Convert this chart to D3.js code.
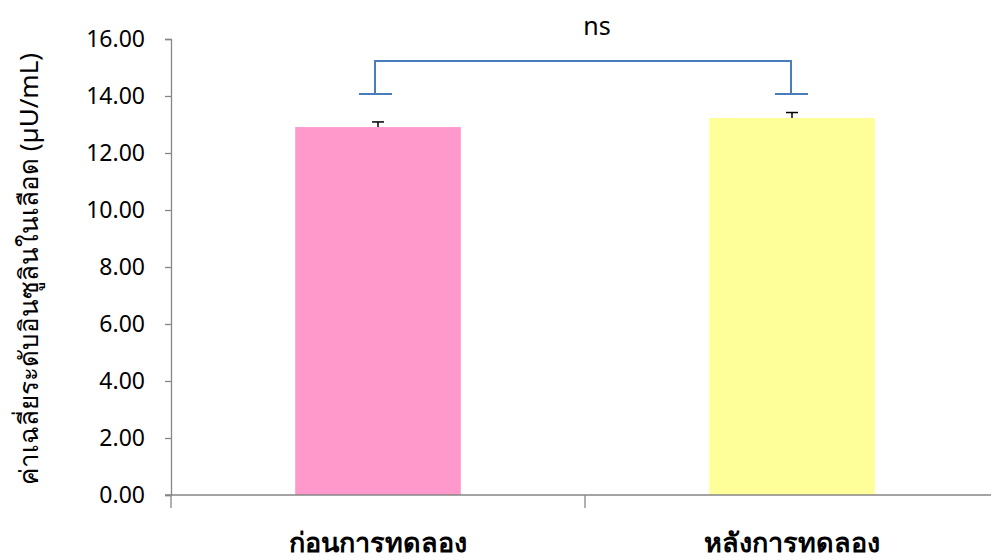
<!DOCTYPE html>
<html>
<head>
<meta charset="utf-8">
<script src="https://cdn.jsdelivr.net/npm/d3@7"></script>
<style>
  html, body { margin: 0; padding: 0; background: #fff; }
  svg { display: block; }
  text { font-family: "Noto Sans", "Open Sans", "DejaVu Sans", sans-serif; fill: #000; }
</style>
</head>
<body>
<div id="chart"></div>
<script>
// Mean blood insulin level before and after the trial
const categories = ["ก่อนการทดลอง", "หลังการทดลอง"];
const means = [12.91, 13.23];
const errors = [0.18, 0.19];
const yTicks = [0, 2, 4, 6, 8, 10, 12, 14, 16];
const yTitle = "ค่าเฉลี่ยระดับอินซูลินในเลือด (µU/mL)";
const sigLabel = "ns";
const bracketBase = 14.07;
const bracketTop = 15.23;

const W = 991, H = 560;
const svg = d3.select("#chart").append("svg").attr("width", W).attr("height", H);

const x0 = 171, x1 = 999, yTop = 39, yBottom = 495;
const x = d3.scaleBand().domain(categories).range([x0, x1]).paddingInner(0.6).paddingOuter(0.3);
const y = d3.scaleLinear().domain([0, 16]).range([yBottom, yTop]);

const axisColor = "#868686";

// bars
const colors = ["#ff99cc", "#ffff99"];
svg.selectAll("rect.bar").data(categories).join("rect")
  .attr("class", "bar")
  .attr("x", d => x(d))
  .attr("width", x.bandwidth())
  .attr("y", (d, i) => y(means[i]))
  .attr("height", (d, i) => y(0) - y(means[i]))
  .attr("fill", (d, i) => colors[i]);

// error bars (upper only)
categories.forEach((c, i) => {
  const cx = x(c) + x.bandwidth() / 2;
  const g = svg.append("g").attr("stroke", "#000").attr("stroke-width", 1.5);
  g.append("line").attr("x1", cx).attr("x2", cx).attr("y1", y(means[i])).attr("y2", y(means[i] + errors[i]));
  g.append("line").attr("x1", cx - 6).attr("x2", cx + 6).attr("y1", y(means[i] + errors[i])).attr("y2", y(means[i] + errors[i]));
});

// y axis
const yAxis = d3.axisLeft(y).tickValues(yTicks).tickFormat(d3.format(".2f")).tickSize(6).tickPadding(20);
const gy = svg.append("g").attr("transform", `translate(${x0},0)`).call(yAxis);
gy.select(".domain").attr("stroke", axisColor).attr("stroke-width", 1.3);
gy.selectAll(".tick line").attr("stroke", axisColor).attr("stroke-width", 1.3);
gy.selectAll(".tick text").attr("font-size", 23).attr("font-family", "'Open Sans', sans-serif").attr("fill", "#000");

// x axis baseline with category separators
const gx = svg.append("g");
gx.append("line").attr("x1", x0 - 6).attr("x2", x1).attr("y1", y(0)).attr("y2", y(0))
  .attr("stroke", axisColor).attr("stroke-width", 1.3);
const bounds = [x0, (x0 + x1) / 2, x1];
gx.selectAll("line.sep").data(bounds).join("line")
  .attr("class", "sep")
  .attr("x1", d => d).attr("x2", d => d)
  .attr("y1", y(0)).attr("y2", y(0) + 13)
  .attr("stroke", axisColor).attr("stroke-width", 1.3);

// category labels
svg.selectAll("text.cat").data(categories).join("text")
  .attr("class", "cat")
  .attr("x", d => x(d) + x.bandwidth() / 2)
  .attr("y", 552)
  .attr("text-anchor", "middle")
  .attr("font-size", 27)
  .attr("font-weight", "bold")
  .text(d => d);

// y title
svg.append("text")
  .attr("transform", `translate(38,${(yTop + yBottom) / 2 + 2}) rotate(-90)`)
  .attr("text-anchor", "middle")
  .attr("font-size", 26)
  .text(yTitle);

// significance bracket
const cA = x(categories[0]) + x.bandwidth() / 2 - 3;
const cB = x(categories[1]) + x.bandwidth() / 2 - 1;
const br = svg.append("g").attr("stroke", "#4a7ebb").attr("stroke-width", 2).attr("fill", "none");
br.append("path").attr("d", `M${cA},${y(bracketBase)}V${y(bracketTop)}H${cB}V${y(bracketBase)}`);
br.append("line").attr("x1", cA - 16).attr("x2", cA + 17).attr("y1", y(bracketBase)).attr("y2", y(bracketBase));
br.append("line").attr("x1", cB - 16).attr("x2", cB + 17).attr("y1", y(bracketBase)).attr("y2", y(bracketBase));

svg.append("text")
  .attr("x", (cA + cB) / 2 + 14)
  .attr("y", 35)
  .attr("text-anchor", "middle")
  .attr("font-size", 25)
  .attr("font-family", "'Open Sans', sans-serif")
  .text(sigLabel);
</script>
</body>
</html>
